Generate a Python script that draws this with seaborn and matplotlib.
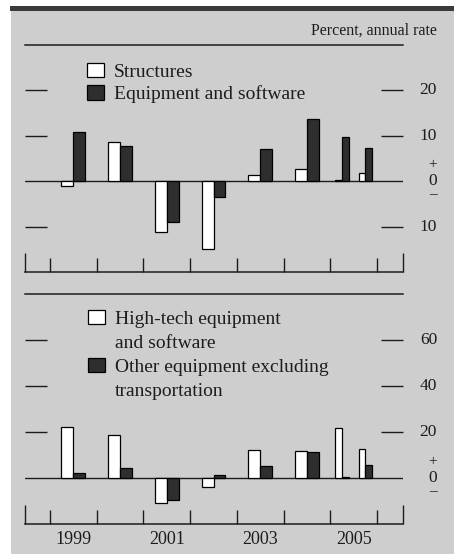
import matplotlib
matplotlib.use("Agg")
import matplotlib.pyplot as plt
import matplotlib.transforms as mtransforms
from matplotlib.patches import Rectangle, Patch
import seaborn as sns
import pandas as pd

# ---------------- data ----------------
years = [1999, 2000, 2001, 2002, 2003, 2004]
halves = [2005.0, 2005.5]          # 2005:H1, 2005:H2 (start of half-year)
year_labels = ["1999", "2001", "2003", "2005"]
year_label_pos = [1999, 2001, 2003, 2005]

structures_annual = [-1.0, 8.6, -11.1, -15.0, 1.3, 2.7]
equip_annual = [10.8, 7.7, -9.0, -3.4, 7.2, 13.8]
structures_half = [0.3, 1.7]
equip_half = [9.7, 7.3]

hitech_annual = [22.2, 18.8, -10.9, -4.1, 12.0, 11.6]
other_annual = [2.2, 4.3, -9.7, 1.4, 5.4, 11.3]
hitech_half = [21.7, 12.6]
other_half = [0.4, 5.5]

top_series = ["Structures", "Equipment and software"]
bot_series = ["High-tech equipment", "Other equipment excluding"]
bot_legend_labels = ["High-tech equipment", "and software",
                     "Other equipment excluding", "transportation"]

top_ticks = [-10, 10, 20]
bot_ticks = [20, 40, 60]

# ---------------- style ----------------
sns.set_style("white")
plt.rcParams['font.family'] = ['Liberation Serif', 'DejaVu Serif']
TXT = '#1c1c1c'
DARK = '#2e2e2e'
BG = '#cecece'

W, H = 454, 554
fig = plt.figure(figsize=(W / 100, H / 100), dpi=100)
fig.patch.set_facecolor('white')
fig.add_artist(Rectangle((11 / W, 0), 1 - 11 / W, (H - 11) / H, transform=fig.transFigure,
                         facecolor=BG, edgecolor='none', zorder=-10))
fig.add_artist(Rectangle((10 / W, (H - 11) / H), 1, 5 / H, transform=fig.transFigure,
                         facecolor='#3a3a3a', edgecolor='none', zorder=-9))

ax1 = fig.add_axes([25 / W, (H - 272) / H, 378 / W, 227 / H])
ax2 = fig.add_axes([25 / W, (H - 524) / H, 378 / W, 230 / H])

xlim = (1998.465, 2006.556)


def make_df(ann_a, ann_b, half_a, half_b, names):
    da = pd.DataFrame({
        'x': [y + 0.5 for y in years] * 2,
        'value': ann_a + ann_b,
        'series': [names[0]] * len(years) + [names[1]] * len(years)})
    dh = pd.DataFrame({
        'x': [h + 0.25 for h in halves] * 2,
        'value': half_a + half_b,
        'series': [names[0]] * len(halves) + [names[1]] * len(halves)})
    return da, dh


def draw_panel(ax, da, dh, names, ylim, ticks):
    pal = {names[0]: 'white', names[1]: DARK}
    ax.axhline(0, color=TXT, lw=1.0, zorder=1)
    sns.barplot(data=da, x='x', y='value', hue='series', hue_order=names, palette=pal,
                native_scale=True, orient='x', width=0.51, dodge=True, errorbar=None,
                edgecolor='black', linewidth=0.9, legend=False, saturation=1, ax=ax, zorder=3)
    sns.barplot(data=dh, x='x', y='value', hue='series', hue_order=names, palette=pal,
                native_scale=True, orient='x', width=0.58, dodge=True, errorbar=None,
                edgecolor='black', linewidth=0.9, legend=False, saturation=1, ax=ax, zorder=3)
    ax.set_facecolor('none')
    ax.set_xlim(*xlim)
    ax.set_ylim(*ylim)
    ax.set_xlabel('')
    ax.set_ylabel('')
    for s in ['left', 'right']:
        ax.spines[s].set_visible(False)
    for s in ['top', 'bottom']:
        ax.spines[s].set_visible(True)
        ax.spines[s].set_color(TXT)
        ax.spines[s].set_linewidth(1.1)
    ax.set_xticks(list(range(1999, 2007)))
    ax.set_xticks(list(xlim), minor=True)
    ax.tick_params(axis='x', which='major', direction='in', length=10, width=1,
                   color=TXT, labelbottom=False, bottom=True, top=False)
    ax.tick_params(axis='x', which='minor', direction='in', length=13.7, width=1,
                   color=TXT, labelbottom=False, bottom=True, top=False)
    ax.set_yticks(ticks)
    ax.tick_params(axis='y', direction='in', length=16, width=1, color=TXT,
                   left=True, right=True, labelleft=False, labelright=False)
    tr = mtransforms.blended_transform_factory(ax.transAxes, ax.transData)
    for v in ticks:
        ax.text(1.09, v, str(abs(v)), transform=tr, ha='right', va='center',
                fontsize=12.5, color=TXT)
    ax.text(1.0794, 0, '0', transform=tr, ha='center', va='center', fontsize=12.5, color=TXT)
    ax.annotate('+', xy=(1.0794, 0), xycoords=tr, xytext=(0, 12), textcoords='offset points',
                ha='center', va='center', fontsize=11, color=TXT)
    ax.annotate('\u2013', xy=(1.0794, 0), xycoords=tr, xytext=(0, -9.5), textcoords='offset points',
                ha='center', va='center', fontsize=11, color=TXT)


da, dh = make_df(structures_annual, equip_annual, structures_half, equip_half, top_series)
draw_panel(ax1, da, dh, top_series, (-20, 30), top_ticks)
da, dh = make_df(hitech_annual, other_annual, hitech_half, other_half, bot_series)
draw_panel(ax2, da, dh, bot_series, (-20, 80), bot_ticks)

# legends
h_white = Patch(facecolor='white', edgecolor='black', linewidth=0.9)
h_dark = Patch(facecolor=DARK, edgecolor='black', linewidth=0.9)
h_none = Patch(facecolor='none', edgecolor='none')
leg_kw = dict(loc='upper left', frameon=False, fontsize=14, handlelength=0.85,
              handleheight=0.75, handletextpad=0.55, borderpad=0, borderaxespad=0,
              labelcolor=TXT)
ax1.legend([h_white, h_dark], top_series, bbox_to_anchor=((87 - 25) / 378, 1 - (63 - 45) / 227),
           labelspacing=0.23, **leg_kw)
ax2.legend([h_white, h_none, h_dark, h_none], bot_legend_labels,
           bbox_to_anchor=((88 - 25) / 378, 1 - (310 - 294) / 230),
           labelspacing=0.32, **leg_kw)

# year labels
trx = mtransforms.blended_transform_factory(ax2.transData, ax2.transAxes)
for p, lab in zip(year_label_pos, year_labels):
    ax2.text(p + 0.5, -16 / 230, lab, transform=trx, ha='center', va='center',
             fontsize=13, color=TXT)

fig.text(437 / W, 1 - 31 / H, 'Percent, annual rate', ha='right', va='center',
         fontsize=11.5, color=TXT)

fig.savefig('out.png', dpi=100, facecolor=fig.get_facecolor())
